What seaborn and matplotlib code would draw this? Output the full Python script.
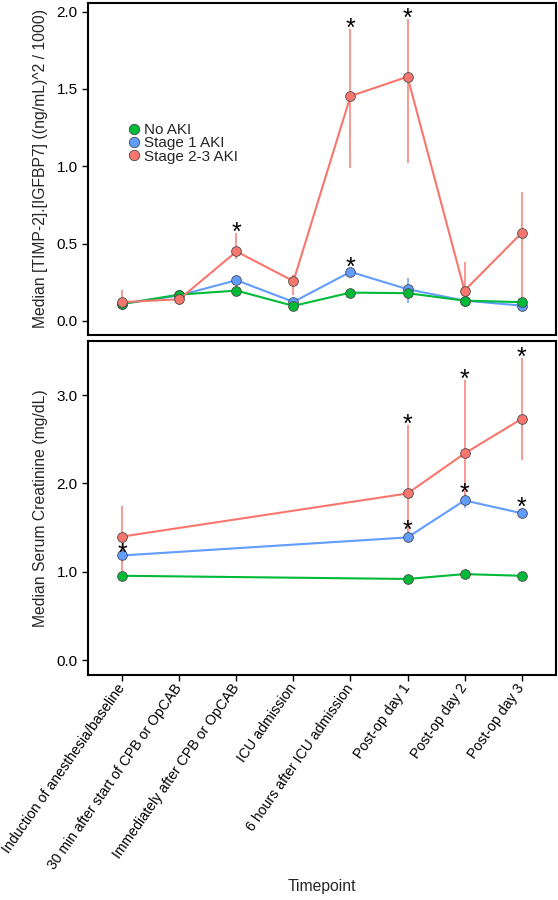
import numpy as np
import pandas as pd
import matplotlib
matplotlib.use("Agg")
import matplotlib.pyplot as plt
from matplotlib.lines import Line2D
import seaborn as sns

# --- dados ---
timepoints = ["Induction of anesthesia/baseline", "30 min after start of CPB or OpCAB",
              "Immediately after CPB or OpCAB", "ICU admission", "6 hours after ICU admission",
              "Post-op day 1", "Post-op day 2", "Post-op day 3"]
groups = ["No AKI", "Stage 1 AKI", "Stage 2-3 AKI"]
colors = {"No AKI": "#00BA38", "Stage 1 AKI": "#619CFF", "Stage 2-3 AKI": "#F8766D"}

# painel de cima: [TIMP-2].[IGFBP7]
bio_idx = [0, 1, 2, 3, 4, 5, 6, 7]
bio_no = [0.110, 0.170, 0.196, 0.097, 0.183, 0.179, 0.131, 0.121]
bio_s1 = [0.110, 0.165, 0.263, 0.123, 0.317, 0.205, 0.131, 0.099]
bio_s23 = [0.121, 0.140, 0.449, 0.257, 1.454, 1.579, 0.196, 0.568]
bio_s1_lo = [0.100, 0.150, 0.240, 0.100, 0.290, 0.114, 0.120, 0.090]
bio_s1_hi = [0.120, 0.180, 0.280, 0.140, 0.343, 0.280, 0.140, 0.110]
bio_s23_lo = [0.080, 0.100, 0.400, 0.168, 0.988, 1.020, 0.130, 0.125]
bio_s23_hi = [0.200, 0.160, 0.570, 0.300, 1.887, 1.955, 0.380, 0.833]
bio_star_s1 = [4]
bio_star_s23 = [2, 4, 5]

# painel de baixo: creatinina
sc_idx = [0, 5, 6, 7]
sc_no = [0.956, 0.920, 0.975, 0.956]
sc_s1 = [1.186, 1.390, 1.808, 1.664]
sc_s23 = [1.400, 1.887, 2.339, 2.730]
sc_s1_lo = [1.160, 1.360, 1.720, 1.640]
sc_s1_hi = [1.200, 1.465, 1.880, 1.720]
sc_s23_lo = [1.000, 1.430, 1.830, 2.260]
sc_s23_hi = [1.740, 2.660, 3.175, 3.420]
sc_star_s1 = [0, 5, 6, 7]
sc_star_s23 = [5, 6, 7]

sns.set_style("white")
plt.rcParams["font.family"] = ["Liberation Sans", "DejaVu Sans"]
plt.rcParams["font.size"] = 11


def long_df(idx, series):
    rows = []
    for g, vals in series.items():
        for i, v in zip(idx, vals):
            rows.append({"x": i, "val": v, "group": g})
    return pd.DataFrame(rows)


def draw_panel(ax, idx, series, bars, stars):
    # barras de erro primeiro
    for g, (lo, hi) in bars.items():
        ax.vlines(idx, lo, hi, color=colors[g], alpha=0.8, linewidth=1.3, zorder=1)
    df = long_df(idx, series)
    sns.lineplot(data=df, x="x", y="val", hue="group",
                 hue_order=["Stage 1 AKI", "No AKI", "Stage 2-3 AKI"],
                 palette=colors, marker="o", markersize=7, markeredgecolor="#4a4a4a",
                 markeredgewidth=0.6, linewidth=1.5, legend=False, ax=ax, zorder=2)
    for g, pos in stars.items():
        hi = dict(zip(idx, bars[g][1]))
        for p in pos:
            ax.annotate("*", (p, hi[p]), xytext=(0, -8.5), textcoords="offset points",
                        ha="center", va="bottom", fontsize=18, color="black")


fig = plt.figure(figsize=(5.58, 9.0), dpi=100)
ax1 = fig.add_axes([0.158, 0.628, 0.838, 0.369])
ax2 = fig.add_axes([0.158, 0.250, 0.838, 0.371])

draw_panel(ax1, bio_idx,
           {"No AKI": bio_no, "Stage 1 AKI": bio_s1, "Stage 2-3 AKI": bio_s23},
           {"Stage 1 AKI": (bio_s1_lo, bio_s1_hi), "Stage 2-3 AKI": (bio_s23_lo, bio_s23_hi)},
           {"Stage 1 AKI": bio_star_s1, "Stage 2-3 AKI": bio_star_s23})
draw_panel(ax2, sc_idx,
           {"No AKI": sc_no, "Stage 1 AKI": sc_s1, "Stage 2-3 AKI": sc_s23},
           {"Stage 1 AKI": (sc_s1_lo, sc_s1_hi), "Stage 2-3 AKI": (sc_s23_lo, sc_s23_hi)},
           {"Stage 1 AKI": sc_star_s1, "Stage 2-3 AKI": sc_star_s23})

for ax in (ax1, ax2):
    ax.set_xlim(-0.6, 7.6)
    ax.set_xticks(range(len(timepoints)))
    for s in ax.spines.values():
        s.set_linewidth(1.5)
        s.set_color("black")
    ax.tick_params(axis="both", direction="out", length=4, width=1, color="black",
                   labelsize=11, labelcolor="black", left=True, bottom=True)

ax1.set_ylim(-0.09, 2.058)
ax1.set_yticks([0.0, 0.5, 1.0, 1.5, 2.0])
ax1.set_yticklabels(["0.0", "0.5", "1.0", "1.5", "2.0"])
ax1.set_xticklabels([])
ax1.tick_params(axis="x", length=0)
ax1.set_xlabel("")
ax1.set_ylabel("Median [TIMP-2].[IGFBP7] ((ng/mL)^2 / 1000)", fontsize=11.3, labelpad=6)

ax2.set_ylim(-0.166, 3.61)
ax2.set_yticks([0.0, 1.0, 2.0, 3.0])
ax2.set_yticklabels(["0.0", "1.0", "2.0", "3.0"])
ax2.set_xticklabels(timepoints, rotation=55, ha="right", va="center", rotation_mode="anchor",
                    fontsize=10.2)
ax2.set_xlabel("Timepoint", fontsize=11.3)
ax2.xaxis.set_label_coords(0.5, -0.61)
ax2.set_ylabel("Median Serum Creatinine (mg/dL)", fontsize=11.3, labelpad=6)

handles = [Line2D([], [], linestyle="none", marker="o", markersize=7.5,
                  markerfacecolor=colors[g], markeredgecolor="#4a4a4a", markeredgewidth=0.6)
           for g in groups]
ax1.legend(handles, groups, loc="upper left", bbox_to_anchor=(0.071, 0.66), frameon=False,
           handlelength=0.7, handletextpad=0.25, labelspacing=-0.05, borderpad=0, fontsize=11)

fig.savefig("out.png", dpi=100)
